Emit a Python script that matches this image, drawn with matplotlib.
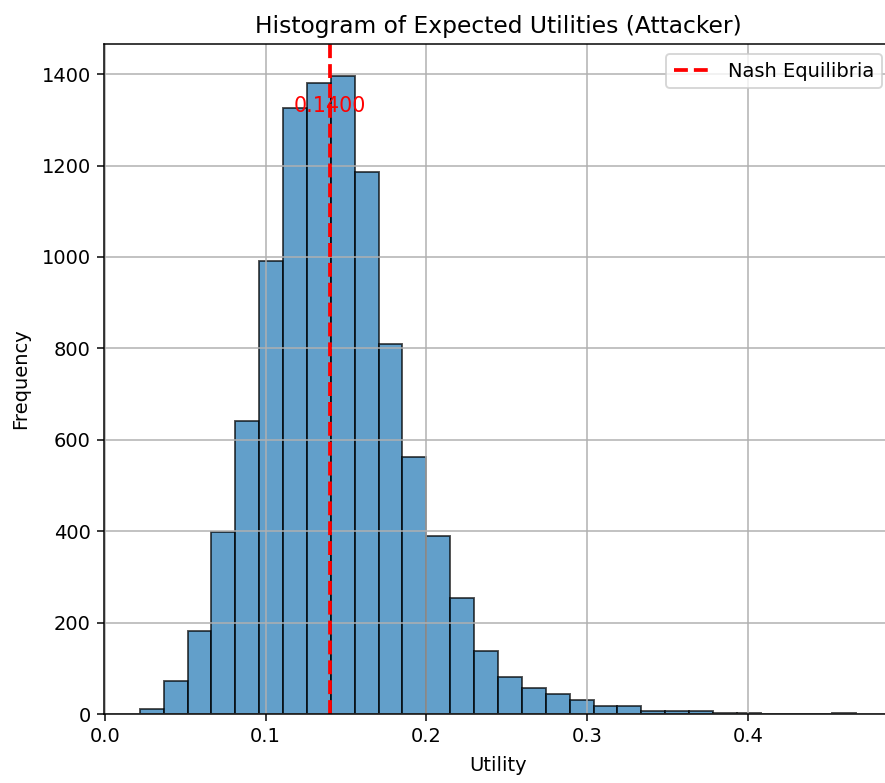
import matplotlib
matplotlib.use('Agg')
import matplotlib.pyplot as plt
import numpy as np

# histogram bin edges (30 equal bins) and counts per bin
bin_lo = 0.0218
bin_hi = 0.4673
n_bins = 30
counts = [12, 72, 182, 399, 642, 990, 1325, 1380, 1396, 1186,
          810, 563, 390, 254, 138, 82, 58, 44, 31, 18,
          18, 6, 6, 7, 3, 2, 0, 0, 0, 2]

nash_value = 0.14

plt.rcParams['font.size'] = 10.4

edges = np.linspace(bin_lo, bin_hi, n_bins + 1)
centers = (edges[:-1] + edges[1:]) / 2

fig = plt.figure(figsize=(885 / 135, 783 / 135), dpi=135)
ax = fig.add_axes([0.1175, 0.0881, 0.8904, 0.8557])

ax.hist(centers, bins=edges, weights=counts, edgecolor='black', alpha=0.7)
ax.axvline(nash_value, color='r', linestyle='--', linewidth=2, label='Nash Equilibria')
ax.text(nash_value, max(counts) * 0.953, f'{nash_value:.4f}', color='red',
        ha='center', va='center', fontsize=11)

ax.set_title('Histogram of Expected Utilities (Attacker)')
ax.set_xlabel('Utility', labelpad=5)
ax.set_ylabel('Frequency', labelpad=6)
ax.legend(loc='upper right')
ax.grid(True)

fig.savefig('out.png', dpi=135)
